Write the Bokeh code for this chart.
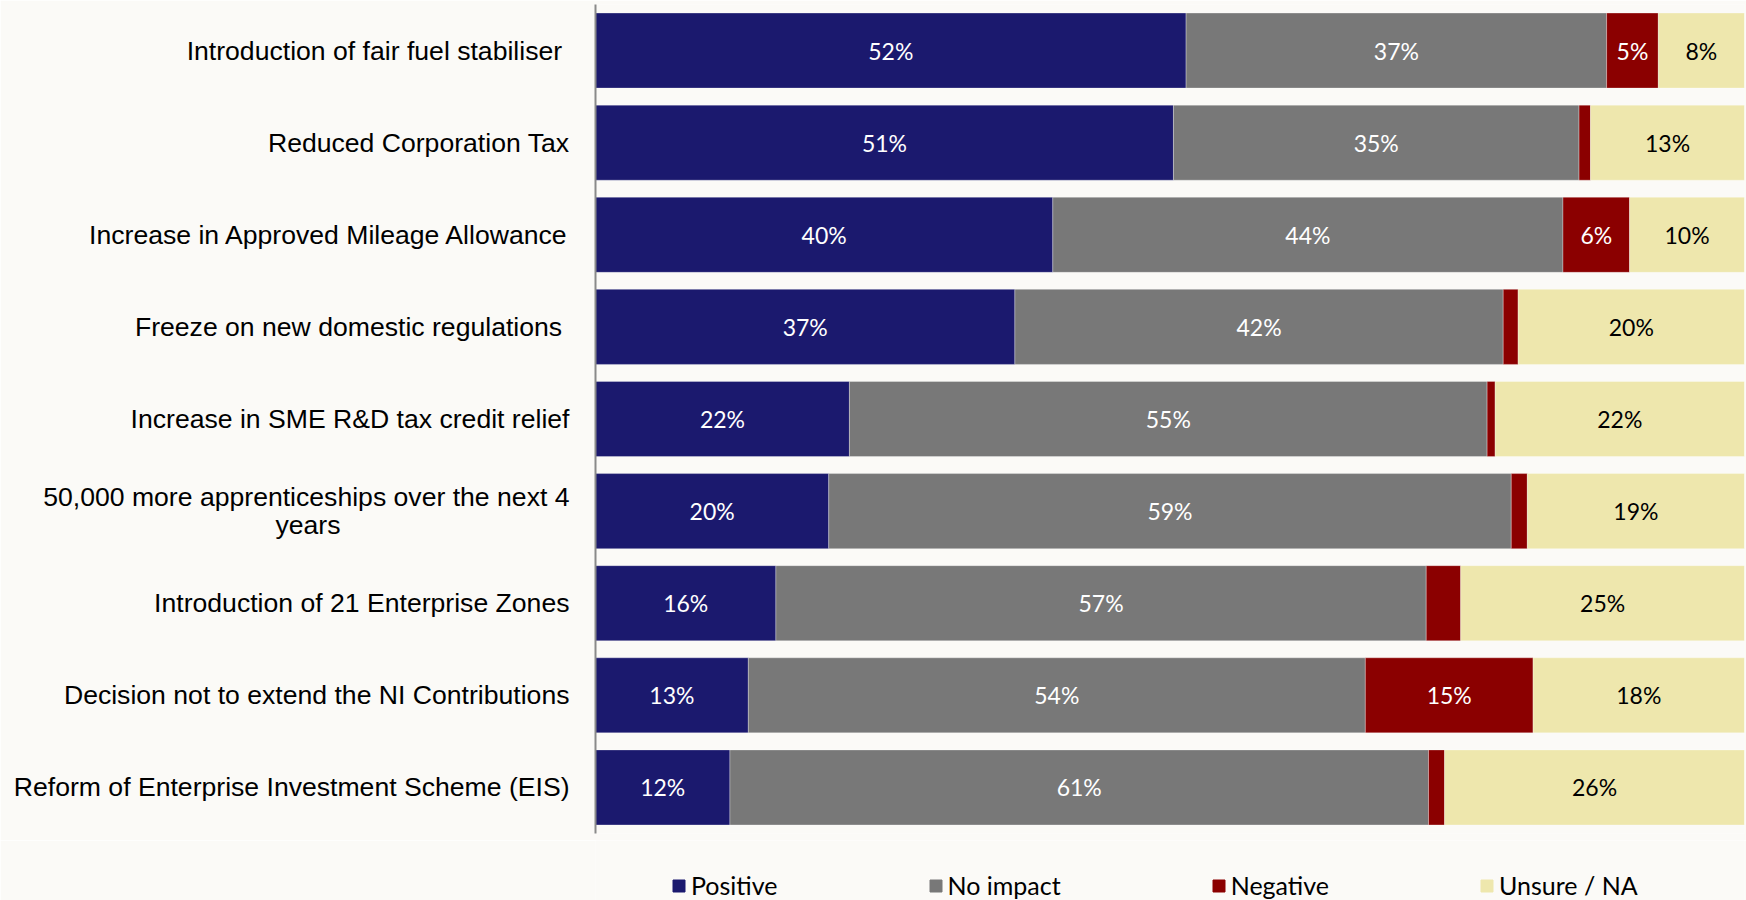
from bokeh.plotting import figure
from bokeh.layouts import column
from bokeh.models import ColumnDataSource, Range1d, FactorRange, Legend, LegendItem
from bokeh.core.properties import value
from bokeh.embed import file_html
from bokeh.resources import INLINE

NB = "\u00a0"
categories = [
    "Introduction of fair fuel stabiliser" + NB,
    "Reduced Corporation Tax",
    "Increase in Approved Mileage Allowance",
    "Freeze on new domestic regulations" + NB,
    "Increase in SME R&D tax credit relief",
    "50,000 more apprenticeships over the next 4\nyears" + NB * 31,
    "Introduction of 21 Enterprise Zones",
    "Decision not to extend the NI Contributions",
    "Reform of Enterprise Investment Scheme (EIS)",
]
series_names = ["Positive", "No impact", "Negative", "Unsure / NA"]
positive = [51.4, 50.3, 39.8, 36.5, 22.1, 20.3, 15.7, 13.3, 11.7]
no_impact = [36.6, 35.3, 44.4, 42.5, 55.5, 59.4, 56.6, 53.7, 60.8]
negative = [4.5, 1.0, 5.8, 1.3, 0.7, 1.4, 3.0, 14.6, 1.4]
unsure = [7.5, 13.4, 10.0, 19.7, 21.7, 18.9, 24.7, 18.4, 26.1]

positive_labels = ["52%", "51%", "40%", "37%", "22%", "20%", "16%", "13%", "12%"]
no_impact_labels = ["37%", "35%", "44%", "42%", "55%", "59%", "57%", "54%", "61%"]
negative_labels = ["5%", "", "6%", "", "", "", "", "15%", ""]
unsure_labels = ["8%", "13%", "10%", "20%", "22%", "19%", "25%", "18%", "26%"]

colors = ["#1B196E", "#787878", "#8B0000", "#EEE7AD"]
label_colors = ["white", "white", "white", "black"]
bg = "#FBFAF7"

keys = ["pos", "noimp", "neg", "uns"]
src = ColumnDataSource(dict(cat=categories, pos=positive, noimp=no_impact, neg=negative, uns=unsure))

p = figure(width=1746, height=840,
           y_range=FactorRange(factors=categories[::-1]),
           x_range=Range1d(0, 100),
           output_backend="svg", toolbar_location=None,
           min_border_left=595, min_border_right=2, min_border_top=4, min_border_bottom=7)
p.background_fill_color = bg
p.border_fill_color = bg
p.outline_line_color = None
p.xaxis.visible = False
p.xgrid.visible = False
p.ygrid.visible = False
p.yaxis.axis_line_color = "#8A8A8A"
p.yaxis.axis_line_width = 2
p.yaxis.major_tick_line_color = None
p.yaxis.minor_tick_line_color = None
p.yaxis.major_tick_out = 0
p.yaxis.major_tick_in = 0
p.yaxis.major_label_standoff = 26
p.yaxis.major_label_text_font = "Liberation Sans"
p.yaxis.major_label_text_font_size = "26.6px"
p.yaxis.major_label_text_color = "black"
p.yaxis.major_label_text_line_height = 0.94

p.hbar_stack(keys, y="cat", height=0.815, color=colors, source=src,
             line_color="white", line_alpha=0.3, line_width=1)

# data labels
all_vals = [positive, no_impact, negative, unsure]
all_labels = [positive_labels, no_impact_labels, negative_labels, unsure_labels]
lx, ly, lt, lc = [], [], [], []
for i, cat in enumerate(categories):
    start = 0.0
    for s in range(4):
        v = all_vals[s][i]
        t = all_labels[s][i]
        if t:
            lx.append(start + v / 2.0)
            ly.append(cat)
            lt.append(t)
            lc.append(label_colors[s])
        start += v
lsrc = ColumnDataSource(dict(x=lx, y=ly, text=lt, color=lc))
p.text(x="x", y="y", text="text", text_color="color", source=lsrc,
       text_align="center", text_baseline="middle",
       text_font=value("Lato"), text_font_size="23px")

# legend strip (its frame is aligned with the main frame by the column layout)
lf = figure(width=1746, height=60, x_range=Range1d(0, 1), y_range=Range1d(0, 1),
            output_backend="svg", toolbar_location=None,
            min_border_left=0, min_border_right=0, min_border_top=0, min_border_bottom=0)
lf.background_fill_color = bg
lf.border_fill_color = bg
lf.outline_line_color = None
lf.axis.visible = False
lf.grid.visible = False
nan = float("nan")
key_src = ColumnDataSource(dict(y=[nan], left=[nan], right=[nan]))
leg_renderers = [lf.hbar(y="y", left="left", right="right", height=0.5, color=c, source=key_src)
                 for c in colors]
legend = Legend(
    items=[LegendItem(label=n, renderers=[r]) for n, r in zip(series_names, leg_renderers)],
    location=(76, 0), orientation="horizontal", spacing=150,
    glyph_width=15, glyph_height=15, label_standoff=5, padding=0, margin=0,
    label_height=20,
    border_line_color=None, background_fill_alpha=0,
    label_text_font="Lato", label_text_font_size="25px", label_text_color="black",
)
lf.add_layout(legend, "center")

layout = column(p, lf, spacing=0)
open("out.html", "w").write(file_html(layout, INLINE))
